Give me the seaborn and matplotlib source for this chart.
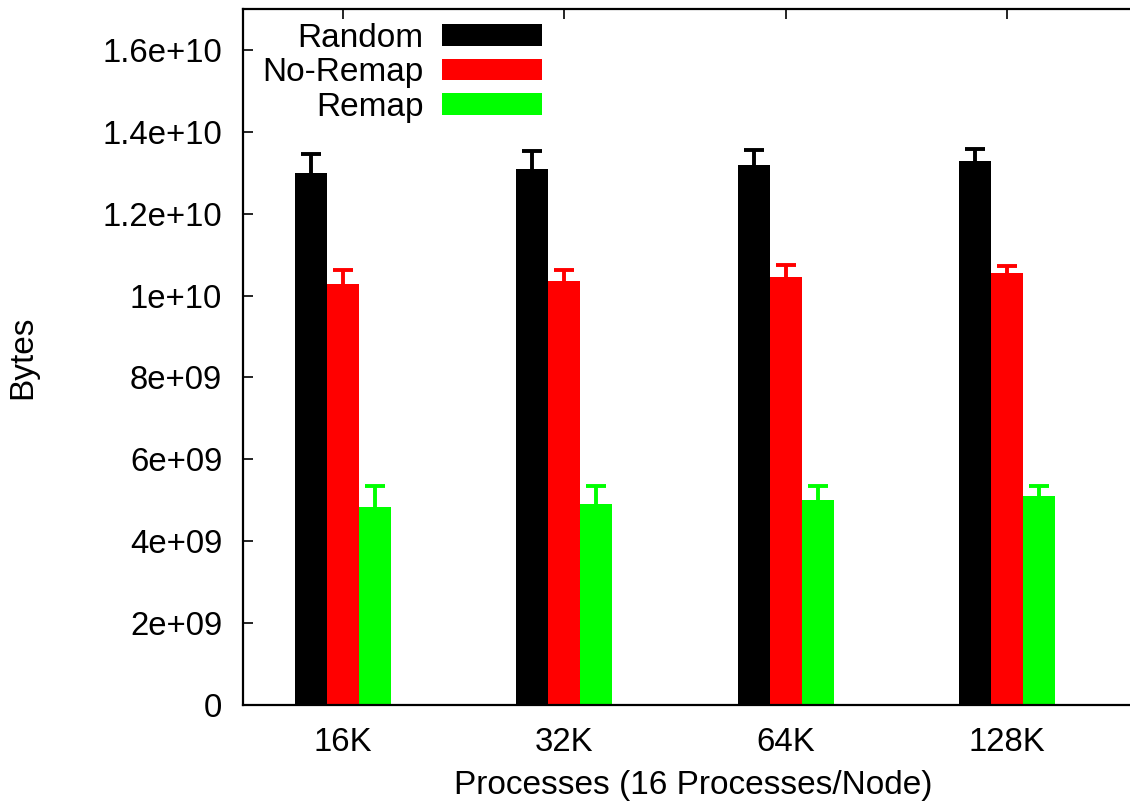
import numpy as np
import pandas as pd
import matplotlib
matplotlib.use("Agg")
import matplotlib.pyplot as plt
import seaborn as sns
from matplotlib.patches import Patch
from matplotlib.ticker import FuncFormatter, MultipleLocator

categories = ["16K", "32K", "64K", "128K"]
series = ["Random", "No-Remap", "Remap"]
random_vals = [13.00e9, 13.08e9, 13.19e9, 13.28e9]
noremap_vals = [10.29e9, 10.36e9, 10.45e9, 10.56e9]
remap_vals = [4.84e9, 4.92e9, 5.00e9, 5.10e9]
random_upper = [13.47e9, 13.52e9, 13.56e9, 13.57e9]
noremap_upper = [10.63e9, 10.63e9, 10.74e9, 10.73e9]
remap_upper = [5.34e9, 5.34e9, 5.34e9, 5.34e9]
colors = {"Random": "#000000", "No-Remap": "#ff0000", "Remap": "#00ff00"}

sns.set_theme(style="white")
plt.rcParams["font.family"] = ["Liberation Sans", "DejaVu Sans"]
plt.rcParams["text.color"] = "black"
plt.rcParams["axes.labelcolor"] = "black"
FS = 23.7
LFS = 24

values = {"Random": random_vals, "No-Remap": noremap_vals, "Remap": remap_vals}
uppers = {"Random": random_upper, "No-Remap": noremap_upper, "Remap": remap_upper}
df = pd.DataFrame(
    [(c, s, values[s][i]) for s in series for i, c in enumerate(categories)],
    columns=["Processes", "Series", "Bytes"],
)

fig = plt.figure(figsize=(11.30, 8.06), dpi=100)
W, H = 1130, 806
left, right, top, bottom = 243, 1144, 9, 705
ax = fig.add_axes([left / W, 1 - bottom / H, (right - left) / W, (bottom - top) / H])

total_w = 0.434
sns.barplot(data=df, x="Processes", y="Bytes", hue="Series", order=categories,
            hue_order=series, palette=colors, width=total_w, gap=0, errorbar=None,
            saturation=1, linewidth=0, legend=False, ax=ax)

bw = total_w / len(series)
for j, s in enumerate(series):
    off = (j - 1) * bw
    xs = np.arange(len(categories)) + off
    v = np.array(values[s])
    up = np.array(uppers[s]) - v
    cont = ax.errorbar(xs, v, yerr=[np.zeros_like(up), up], fmt="none", ecolor=colors[s],
                       elinewidth=2.8, capsize=7.2, capthick=2.8, zorder=1)
    caps = cont.lines[1]
    if len(caps) >= 2:
        caps[0].set_visible(False)

ax.set_xlim(-0.452, 3.62)
ax.set_ylim(0, 1.7e10)
ax.yaxis.set_major_locator(MultipleLocator(2e9))
ax.yaxis.set_major_formatter(FuncFormatter(lambda v, p: f"{v:g}"))

for sp in ax.spines.values():
    sp.set_linewidth(1.6)
    sp.set_color("black")
    sp.set_zorder(5)

ax.tick_params(axis="both", which="major", direction="in", length=7, width=1.2,
               color="black", labelsize=FS, labelcolor="black",
               top=True, right=True, bottom=True, left=True)
ax.tick_params(axis="y", pad=15)
ax.tick_params(axis="x", pad=15.5)

ax.set_ylabel("Bytes", fontsize=LFS)
ax.yaxis.set_label_coords((38 - left) / (right - left), 0.5)
ax.set_xlabel("Processes (16 Processes/Node)", fontsize=LFS, va="top")
ax.xaxis.set_label_coords(0.5, (bottom - 770) / (bottom - top))

handles = [Patch(facecolor=colors[s], edgecolor="none") for s in series]
ax.legend(handles, series, loc="upper right", markerfirst=False, frameon=False,
          fontsize=LFS, handlelength=3.0, handleheight=0.62, handletextpad=0.55,
          labelspacing=0.1, borderpad=0, borderaxespad=0,
          bbox_to_anchor=(542 / W, 1 - 23 / H), bbox_transform=fig.transFigure)

fig.savefig("out.png", dpi=100)
